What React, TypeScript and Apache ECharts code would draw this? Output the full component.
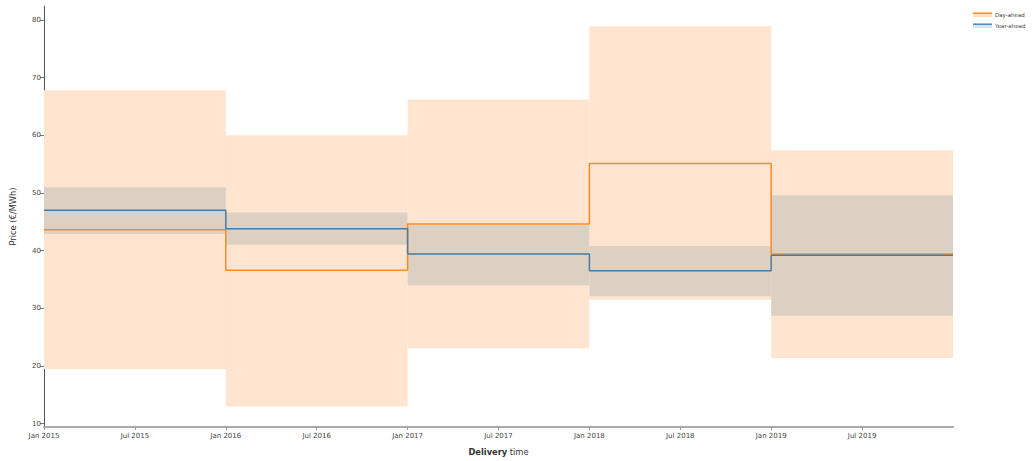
import React, { useEffect, useRef } from "react";
import * as echarts from "echarts";

// Delivery periods (years) and statistics
const periods = [2015, 2016, 2017, 2018, 2019];
const dayAheadMean = [43.6, 36.6, 44.6, 55.1, 39.4];
const dayAheadLow = [19.5, 13.0, 23.1, 31.5, 21.4];
const dayAheadHigh = [67.8, 60.0, 66.2, 78.9, 57.4];
const yearAheadMean = [47.0, 43.8, 39.4, 36.5, 39.2];
const yearAheadLow = [42.9, 41.0, 34.0, 32.1, 28.7];
const yearAheadHigh = [51.0, 46.6, 44.4, 40.8, 49.6];

const yTicks = [10, 20, 30, 40, 50, 60, 70, 80];
const xTicks = [0, 6, 12, 18, 24, 30, 36, 42, 48, 54]; // months since Jan 2015
const monthNames = ["Jan", "Feb", "Mar", "Apr", "May", "Jun", "Jul", "Aug", "Sep", "Oct", "Nov", "Dec"];
const baseYear = 2015;

const FONT = "DejaVu Sans, Verdana, sans-serif";

const toMonth = (year: number) => (year - baseYear) * 12;

function bandData(low: number[], high: number[]) {
  return periods.map((y, i) => [toMonth(y), toMonth(y) + 12, low[i], high[i]]);
}
function stepData(mean: number[]) {
  const pts = periods.map((y, i) => [toMonth(y), mean[i]]);
  pts.push([toMonth(periods[periods.length - 1]) + 12, mean[mean.length - 1]]);
  return pts;
}

function bandSeries(name: string, data: number[][], fill: string, z: number) {
  return {
    type: "custom",
    name,
    z,
    silent: true,
    encode: { x: [0, 1], y: [2, 3] },
    data,
    renderItem: (params: any, api: any) => {
      const s = api.coord([api.value(0), api.value(3)]);
      const e = api.coord([api.value(1), api.value(2)]);
      return {
        type: "rect",
        shape: { x: s[0], y: s[1], width: e[0] - s[0], height: e[1] - s[1] },
        style: { fill },
      };
    },
  };
}

export default function App() {
  const ref = useRef<HTMLDivElement>(null);
  useEffect(() => {
    if (!ref.current) return;
    const chart = echarts.init(ref.current, undefined, { renderer: "svg" });
    chart.setOption({
      animation: false,
      backgroundColor: "#ffffff",
      textStyle: { fontFamily: FONT },
      grid: { left: 44, right: 82, top: 6, bottom: 31, containLabel: false },
      xAxis: {
        type: "value",
        min: 0,
        max: 60,
        name: "{b|Delivery} time",
        nameLocation: "middle",
        nameGap: 21,
        nameTextStyle: {
          fontFamily: FONT,
          fontSize: 8.3,
          color: "#333",
          rich: { b: { fontFamily: FONT, fontSize: 8.3, fontWeight: "bold", color: "#333" } },
        },
        axisLine: { show: true, onZero: false, lineStyle: { color: "#aaa", width: 2 } },
        axisTick: { show: true, length: 3, customValues: xTicks, lineStyle: { color: "#999" } },
        axisLabel: {
          customValues: xTicks,
          fontFamily: FONT,
          fontSize: 7,
          color: "#444",
          margin: 5,
          formatter: (v: number) => `${monthNames[Math.round(v) % 12]} ${baseYear + Math.floor(Math.round(v) / 12)}`,
        },
        splitLine: { show: false },
      },
      yAxis: {
        type: "value",
        min: 9.43,
        max: 82.4,
        name: "Price (€/MWh)",
        nameLocation: "middle",
        nameGap: 27,
        nameTextStyle: { fontFamily: FONT, fontSize: 8.3, color: "#333" },
        axisLine: { show: true, lineStyle: { color: "#555", width: 1 } },
        axisTick: { show: true, length: 4, customValues: yTicks, lineStyle: { color: "#777" } },
        axisLabel: { customValues: yTicks, fontFamily: FONT, fontSize: 7, color: "#444", margin: 3 },
        splitLine: { show: false },
      },
      graphic: [
        { type: "rect", shape: { x: 973, y: 14, width: 19, height: 3 }, style: { fill: "#ffe0c4" } },
        { type: "line", shape: { x1: 973, y1: 13.2, x2: 992, y2: 13.2 }, style: { stroke: "#ff8a22", lineWidth: 1.5 } },
        { type: "text", x: 995, y: 15, style: { text: "Day-ahead", fontFamily: FONT, fontSize: 5.5, fill: "#444", verticalAlign: "middle", align: "left" } },
        { type: "rect", shape: { x: 973, y: 25, width: 19, height: 3 }, style: { fill: "#d5e4f0" } },
        { type: "line", shape: { x1: 973, y1: 24.2, x2: 992, y2: 24.2 }, style: { stroke: "#4a86b8", lineWidth: 1.5 } },
        { type: "text", x: 995, y: 26, style: { text: "Year-ahead", fontFamily: FONT, fontSize: 5.5, fill: "#444", verticalAlign: "middle", align: "left" } },
      ],
      series: [
        bandSeries("Day-ahead range", bandData(dayAheadLow, dayAheadHigh), "#ffe5cf", 1),
        bandSeries("Year-ahead range", bandData(yearAheadLow, yearAheadHigh), "#dcd0c3", 2),
        {
          type: "line",
          name: "Day-ahead",
          z: 3,
          step: "end",
          symbol: "none",
          silent: true,
          data: stepData(dayAheadMean),
          lineStyle: { color: "#ff8a22", width: 1.5 },
        },
        {
          type: "line",
          name: "Year-ahead",
          z: 4,
          step: "end",
          symbol: "none",
          silent: true,
          data: stepData(yearAheadMean),
          lineStyle: { color: "#4a7aa0", width: 1.5 },
        },
      ],
    });
    return () => chart.dispose();
  }, []);
  return (
    <div
      ref={ref}
      style={{ position: "fixed", left: 0, top: 0, width: 1035, height: 461, background: "#fff" }}
    />
  );
}
